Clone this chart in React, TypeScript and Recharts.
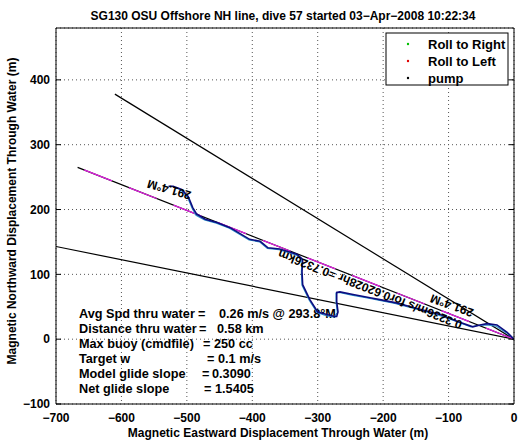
import React from 'react';
import { ComposedChart, Line, XAxis, YAxis, CartesianGrid, ReferenceDot } from 'recharts';

const titleText = 'SG130 OSU Offshore NH line, dive 57 started 03\u2212Apr\u22122008 10:22:34';
const xLabelText = 'Magnetic Eastward Displacement Through Water (m)';
const yLabelText = 'Magnetic Northward Displacement Through Water (m)';

const xTicks = [-700, -600, -500, -400, -300, -200, -100, 0];
const yTicks = [-100, 0, 100, 200, 300, 400];

const headingUpper = [{ x: 0, y: 0 }, { x: -610, y: 378 }];
const headingLower = [{ x: 0, y: 0 }, { x: -700, y: 143 }];
const glideLine = [{ x: 0, y: 0 }, { x: -667, y: 265 }];

const trackNavy = [
  { x: 0, y: 0 }, { x: -11, y: 11 }, { x: -26, y: 22 }, { x: -41, y: 24 }, { x: -52, y: 22 },
  { x: -63, y: 19 }, { x: -85, y: 27 }, { x: -113, y: 38 }, { x: -154, y: 49 }, { x: -180, y: 56 },
  { x: -205, y: 61 }, { x: -220, y: 64 }, { x: -246, y: 69 }, { x: -266, y: 73 }, { x: -271, y: 72 },
  { x: -271, y: 58 }, { x: -269, y: 42 }, { x: -271, y: 35 }, { x: -274, y: 35 }, { x: -286, y: 38 },
  { x: -300, y: 42 }, { x: -312, y: 61 }, { x: -323, y: 84 }, { x: -324, y: 104 }, { x: -323, y: 123 },
  { x: -332, y: 131 }, { x: -358, y: 139 }, { x: -376, y: 141 }, { x: -388, y: 151 }, { x: -404, y: 154 },
  { x: -434, y: 172 }, { x: -454, y: 180 }, { x: -472, y: 185 }, { x: -485, y: 193 }, { x: -491, y: 203 },
  { x: -498, y: 220 }, { x: -508, y: 231 }, { x: -521, y: 236 }, { x: -528, y: 236 },
];

const trackCyan = [
  { x: 0, y: 0 }, { x: -12, y: 10 }, { x: -27, y: 20 }, { x: -42, y: 22 }, { x: -55, y: 21 },
  { x: -66, y: 19 }, { x: -90, y: 28 }, { x: -115, y: 37 }, { x: -156, y: 48 }, { x: -182, y: 55 },
  { x: -207, y: 60 }, { x: -222, y: 63 }, { x: -248, y: 68 }, { x: -267, y: 72 }, { x: -272, y: 71 },
  { x: -272, y: 57 }, { x: -270, y: 41 }, { x: -275, y: 34 }, { x: -287, y: 36 }, { x: -301, y: 41 },
  { x: -313, y: 60 }, { x: -324, y: 83 }, { x: -325, y: 104 }, { x: -324, y: 122 }, { x: -333, y: 130 },
  { x: -359, y: 138 }, { x: -377, y: 140 }, { x: -389, y: 150 }, { x: -405, y: 153 }, { x: -435, y: 171 },
  { x: -455, y: 179 }, { x: -473, y: 184 }, { x: -486, y: 191 }, { x: -492, y: 202 }, { x: -499, y: 219 },
  { x: -509, y: 230 }, { x: -521, y: 235 },
];

const annotationTexts = ['291.4\u00b0M', '291.4\u00b0M', '0.3236m/s for0.62028hr =0.7326km'];
const annotationX = [-527, -95, -220];
const annotationY = [231, 52, 77];

const legendLabels = ['Roll to Right', 'Roll to Left', 'pump'];
const legendColors = ['#00c000', '#e00000', '#000000'];

const statLabels = ['Avg Spd thru water', 'Distance thru water', 'Max buoy (cmdfile)', 'Target w', 'Model glide slope', 'Net glide slope'];
const statValues = ['0.26 m/s @ 293.8\u00b0M', '0.58 km', '250 cc', '0.1 m/s', '0.3090', '1.5405'];

const FONT = "'Liberation Sans', Arial, Helvetica, sans-serif";
const fmt = (v: number) => (v < 0 ? '\u2212' + Math.abs(v) : String(v));
const blank = () => '';

const annotationAngles = [196, 200, 201.5];
const statEqX = [198, 199, 203, 207, 202, 204];
const statValX = [219, 217, 214, 218, 212, 215];

const textStyle = { fontFamily: FONT, fontWeight: 'bold' as const, fill: '#000' };

export default function App() {
  return (
    <div style={{ position: 'absolute', left: 0, top: 0, width: 525, height: 442, background: '#fff' }}>
      <ComposedChart width={525} height={442} margin={{ top: 28, right: 11, bottom: 8, left: 0 }}>
        <CartesianGrid stroke="#555" strokeDasharray="1 3" />
        <XAxis
          xAxisId={0}
          type="number"
          dataKey="x"
          domain={[-700, 0]}
          ticks={xTicks}
          allowDataOverflow
          tickLine={false}
          axisLine={{ stroke: '#000' }}
          tick={{ ...textStyle, fontSize: 12 }}
          tickFormatter={fmt}
          tickSize={5}
          tickMargin={4}
          height={30}
        />
        <YAxis
          yAxisId={0}
          type="number"
          domain={[-100, 480]}
          ticks={yTicks}
          allowDataOverflow
          tickLine={false}
          axisLine={{ stroke: '#000' }}
          tick={{ ...textStyle, fontSize: 12 }}
          tickFormatter={fmt}
          tickSize={2}
          tickMargin={4}
          width={56}
        />
        <XAxis xAxisId="bm" orientation="bottom" mirror type="number" domain={[-700, 0]} ticks={xTicks} allowDataOverflow tickSize={5} tickFormatter={blank} axisLine={false} tickLine={{ stroke: '#000' }} />
        <XAxis xAxisId="tm" orientation="top" mirror type="number" domain={[-700, 0]} ticks={xTicks} allowDataOverflow tickSize={5} tickFormatter={blank} axisLine={{ stroke: '#000' }} tickLine={{ stroke: '#000' }} />
        <YAxis yAxisId="lm" orientation="left" mirror type="number" domain={[-100, 480]} ticks={yTicks} allowDataOverflow tickSize={5} tickFormatter={blank} axisLine={false} tickLine={{ stroke: '#000' }} />
        <YAxis yAxisId="rm" orientation="right" mirror type="number" domain={[-100, 480]} ticks={yTicks} allowDataOverflow tickSize={5} tickFormatter={blank} axisLine={{ stroke: '#000' }} tickLine={{ stroke: '#000' }} />

        <Line data={headingUpper} dataKey="y" type="linear" dot={false} stroke="#000" strokeWidth={1.2} isAnimationActive={false} />
        <Line data={headingLower} dataKey="y" type="linear" dot={false} stroke="#000" strokeWidth={1.2} isAnimationActive={false} />
        <Line data={glideLine} dataKey="y" type="linear" dot={false} stroke="#000" strokeWidth={1.2} isAnimationActive={false} />
        <Line data={glideLine} dataKey="y" type="linear" dot={false} stroke="#e020e0" strokeWidth={1.3} strokeDasharray="30 18" isAnimationActive={false} />
        <Line data={trackCyan} dataKey="y" type="linear" dot={false} stroke="#2a8fc8" strokeWidth={1.1} isAnimationActive={false} />
        <Line data={trackNavy} dataKey="y" type="linear" dot={false} stroke="#0c0c80" strokeWidth={1.6} isAnimationActive={false} />

        {annotationTexts.map((t, i) => (
          <ReferenceDot
            key={'ann' + i}
            x={annotationX[i]}
            y={annotationY[i]}
            r={0}
            ifOverflow="visible"
            shape={(p: any) => (
              <text
                x={p.cx}
                y={p.cy}
                transform={`rotate(${annotationAngles[i]} ${p.cx} ${p.cy})`}
                textAnchor="middle"
                dominantBaseline="central"
                fontSize={12}
                {...textStyle}
              >
                {t}
              </text>
            )}
          />
        ))}

        <text x={283} y={20} textAnchor="middle" fontSize={12} {...textStyle}>{titleText}</text>
        <text x={278} y={437} textAnchor="middle" fontSize={12} {...textStyle}>{xLabelText}</text>
        <text x={12} y={211} textAnchor="middle" dominantBaseline="central" transform="rotate(-90 12 211)" fontSize={12} {...textStyle}>{yLabelText}</text>

        <g>
          {statLabels.map((lab, i) => (
            <text key={'st' + i} y={318 + 15 * i} fontSize={12.7} {...textStyle}>
              <tspan x={79}>{lab}</tspan>
              <tspan x={statEqX[i]}>=</tspan>
              <tspan x={statValX[i]}>{statValues[i]}</tspan>
            </text>
          ))}
        </g>

        <g>
          <rect x={386} y={33} width={122} height={52} fill="#fff" stroke="#000" strokeWidth={1} />
          {legendLabels.map((lab, i) => (
            <g key={'lg' + i}>
              <circle cx={408} cy={44 + 17 * i} r={1.2} fill={legendColors[i]} />
              <text x={428} y={44 + 17 * i} dominantBaseline="central" fontSize={13} {...textStyle}>{lab}</text>
            </g>
          ))}
        </g>
      </ComposedChart>
    </div>
  );
}
